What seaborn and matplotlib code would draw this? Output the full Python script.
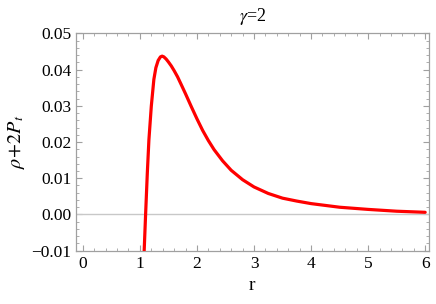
import numpy as np
import pandas as pd
import seaborn as sns
import matplotlib
matplotlib.use("Agg")
import matplotlib.pyplot as plt
from matplotlib.ticker import MultipleLocator, FuncFormatter

# values
r_vals = [1.075, 1.10, 1.13, 1.158, 1.20, 1.245, 1.28, 1.32, 1.36, 1.39,
          1.42, 1.46, 1.50, 1.55, 1.60, 1.66, 1.72, 1.80, 1.90, 2.0,
          2.1, 2.2, 2.3, 2.45, 2.6, 2.8, 3.0, 3.25, 3.5, 3.75,
          4.0, 4.5, 5.0, 5.5, 6.0]
rho_2pt = [-0.0100, 0.0000, 0.0114, 0.0206, 0.0299, 0.0373, 0.0405, 0.0425, 0.0435, 0.0437,
           0.0435, 0.0429, 0.0421, 0.0410, 0.0397, 0.0380, 0.0360, 0.0333, 0.0298, 0.0264,
           0.0232, 0.0204, 0.0179, 0.0148, 0.0122, 0.0096, 0.0076, 0.0058, 0.0045, 0.0037,
           0.0030, 0.0020, 0.0014, 0.0009, 0.0006]
x_ticks = [0, 1, 2, 3, 4, 5, 6]
y_ticks = [-0.01, 0.00, 0.01, 0.02, 0.03, 0.04, 0.05]

df = pd.DataFrame({"r": r_vals, "val": rho_2pt})

sns.set_style("ticks")
plt.rcParams["font.family"] = ["Liberation Serif", "DejaVu Serif"]
plt.rcParams["mathtext.fontset"] = "stix"

fig = plt.figure(figsize=(4.36, 3.04), dpi=100)
ax = fig.add_axes([0.1743, 0.1753, 0.983 - 0.1743, 0.8904 - 0.1753])

ax.axhline(0, color="#c8c8c8", lw=1.0, zorder=1)
sns.lineplot(data=df, x="r", y="val", ax=ax, color="#ff0000", lw=2.3, zorder=3)

ax.set_xlim(-0.12, 6.06)
ax.set_ylim(-0.01, 0.05)
ax.set_xticks(x_ticks)
ax.set_yticks(y_ticks)
ax.xaxis.set_minor_locator(MultipleLocator(0.2))
ax.yaxis.set_minor_locator(MultipleLocator(0.002))
ax.yaxis.set_major_formatter(FuncFormatter(lambda v, p: f"{v:.2f}".replace("-", "\u2212")))

for s in ax.spines.values():
    s.set_color("#a0a0a0")
    s.set_linewidth(0.9)
ax.tick_params(which="both", direction="in", top=True, right=True, color="#a0a0a0",
               labelsize=12.5, labelcolor="black")
ax.tick_params(which="major", length=4, width=0.8)
ax.tick_params(which="minor", length=2, width=0.6)

ax.set_xlabel("r", fontsize=14, color="black")
ax.set_ylabel(r"$\rho\!+\!2P_t$", fontsize=14.5, labelpad=3, color="black")
ax.set_title(r"$\gamma$=2", fontsize=13, pad=9, color="black")

fig.savefig("out.png", dpi=100)
